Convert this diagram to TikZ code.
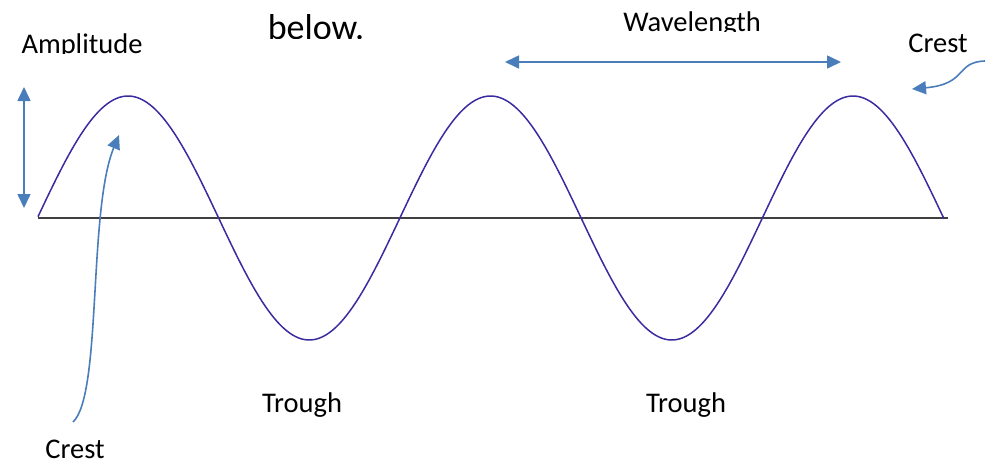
\documentclass[tikz,border=0pt]{standalone}
\usepackage{fontspec}
\setmainfont{Carlito}
\usetikzlibrary{arrows.meta}
\definecolor{arrowblue}{RGB}{74,126,187}
\definecolor{wavecol}{RGB}{58,44,160}
\definecolor{axiscol}{RGB}{64,64,64}
\tikzset{
  lbl/.style={inner sep=0pt, anchor=base, font=\fontsize{28.5}{34}\selectfont},
  bluearrow/.style={draw=arrowblue, line width=1.6pt, -{Triangle[length=14pt,width=13pt]}},
  dblarrow/.style={draw=arrowblue, line width=1.6pt, {Triangle[length=14pt,width=13pt]}-{Triangle[length=14pt,width=13pt]}},
  wave/.style={draw=wavecol, line width=1.5pt},
  axis/.style={draw=axiscol, line width=2pt}
}
\begin{document}
\begin{tikzpicture}[x=1pt,y=-1pt]
\useasboundingbox (0,0) rectangle (987,464);
% clipped texts
\begin{scope}
  \clip (0,0) rectangle (987,53);
  \node[lbl] (amp) at (82,53.5) {Amplitude};
\end{scope}
\begin{scope}
  \clip (0,0) rectangle (987,38);
  \node[lbl, font=\fontsize{36}{42}\selectfont] (below) at (316,39) {below.};
\end{scope}
\begin{scope}
  \clip (0,0) rectangle (987,31.5);
  \node[lbl] (wl) at (692,31.5) {Wavelength};
\end{scope}
\node[lbl] (crestR) at (938,52) {Crest};
\node[lbl] (troughL) at (302,412) {Trough};
\node[lbl] (troughR) at (686,412) {Trough};
\node[lbl] (crestL) at (75,458) {Crest};
% axis and wave
\coordinate (ax0) at (38,218);
\coordinate (ax1) at (948,218);
\draw[axis] (ax0) -- (ax1);
\draw[wave] plot[domain=38:944, samples=300] (\x, {218-122*cos(0.99310*(\x-128))});
% arrows
\coordinate (ampTop) at (24,87);
\coordinate (ampBot) at (24,208);
\draw[dblarrow] (ampBot) -- (ampTop);
\coordinate (wlL) at (505,62);
\coordinate (wlR) at (841,62);
\draw[dblarrow] (wlL) -- (wlR);
\coordinate (cRs) at (985,61);
\coordinate (cRe) at (912,89);
\draw[bluearrow] (cRs) .. controls (955,62) and (968,84) .. (cRe);
\coordinate (cLs) at (73,422);
\coordinate (cLe) at (119,135);
\draw[bluearrow] (cLs) .. controls (102,395) and (88,210) .. (cLe);
\end{tikzpicture}
\end{document}
